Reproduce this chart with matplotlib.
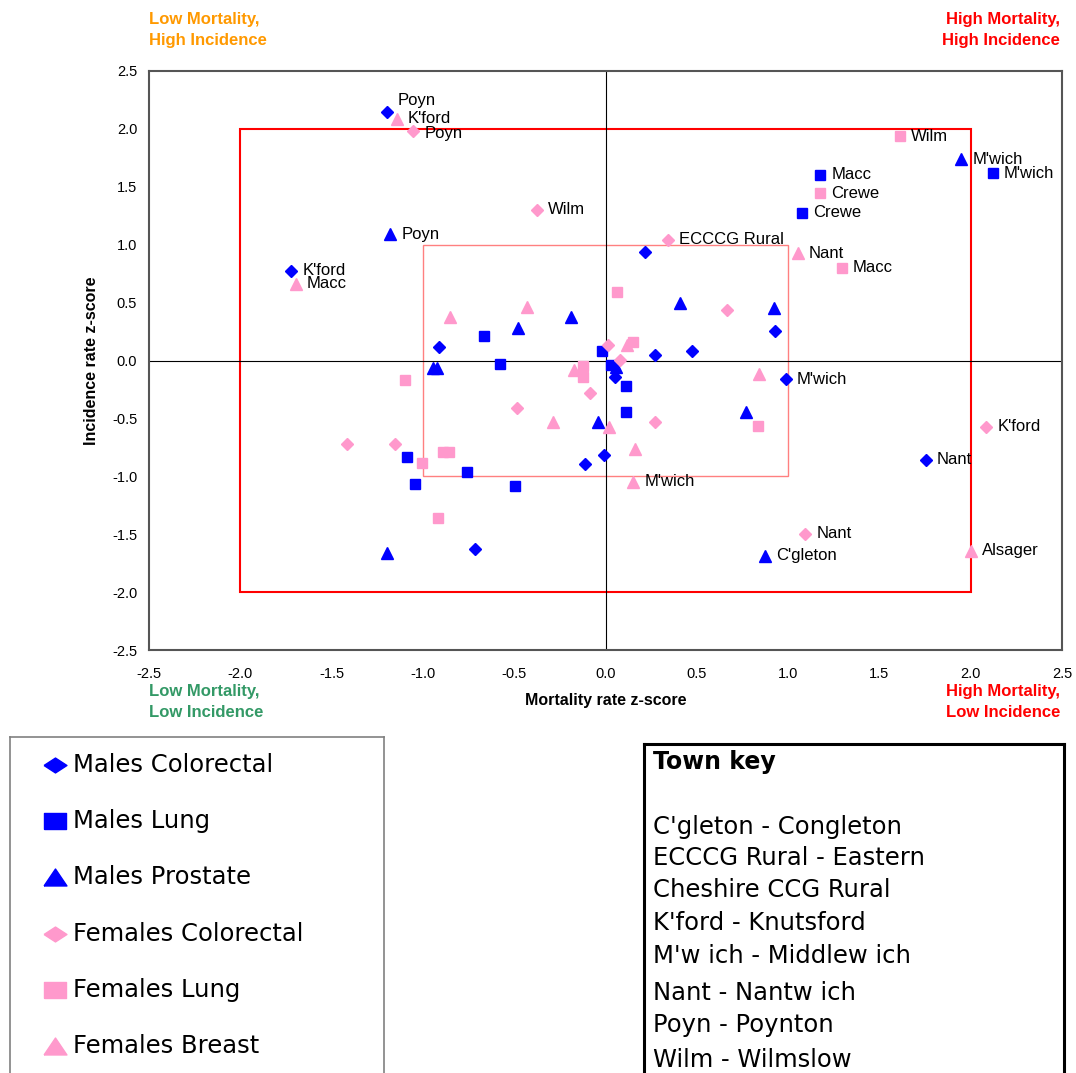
import matplotlib.pyplot as plt
from matplotlib.patches import Rectangle

plt.rcParams['font.family'] = ['Liberation Sans', 'DejaVu Sans']

# mortality (x) and incidence (y) z-scores, '' = unlabelled point
mc_x = [-1.197, -1.722, 0.988, 1.755, 0.216, -0.912, 0.271, 0.474, 0.928, 0.052, -0.112, -0.008, -0.715]
mc_y = [2.146, 0.777, -0.160, -0.859, 0.937, 0.117, 0.048, 0.082, 0.254, -0.142, -0.894, -0.816, -1.628]
mc_lab = ["Poyn", "K'ford", "M'wich", "Nant", '', '', '', '', '', '', '', '', '']

ml_x = [1.175, 1.075, 2.122, -0.665, -0.578, -0.019, 0.030, 0.112, 0.112, -0.758, -0.496, -1.087, -1.046]
ml_y = [1.602, 1.274, 1.619, 0.212, -0.030, 0.082, -0.039, -0.220, -0.445, -0.963, -1.084, -0.833, -1.066]
ml_lab = ["Macc", "Crewe", "M'wich", '', '', '', '', '', '', '', '', '', '']

mp_x = [1.947, -1.180, 0.873, 0.408, 0.923, -0.189, -0.479, -0.945, -0.923, 0.058, -0.041, 0.769, -1.197]
mp_y = [1.740, 1.092, -1.688, 0.497, 0.453, 0.376, 0.281, -0.065, -0.065, -0.056, -0.531, -0.445, -1.662]
mp_lab = ["M'wich", "Poyn", "C'gleton", '', '', '', '', '', '', '', '', '', '']

fc_x = [-1.054, -0.375, 0.342, 2.084, 1.093, 0.665, 0.014, 0.079, -0.085, -0.485, 0.271, -1.153, -1.416]
fc_y = [1.982, 1.300, 1.041, -0.574, -1.498, 0.436, 0.134, 0.004, -0.281, -0.410, -0.531, -0.721, -0.721]
fc_lab = ["Poyn", "Wilm", "ECCCG Rural", "K'ford", "Nant", '', '', '', '', '', '', '', '']

fl_x = [1.613, 1.175, 1.295, 0.063, 0.151, -0.123, -0.123, 0.835, -1.098, -1.005, -0.889, -0.857, -0.917]
fl_y = [1.938, 1.446, 0.799, 0.592, 0.160, -0.047, -0.142, -0.566, -0.168, -0.885, -0.790, -0.790, -1.360]
fl_lab = ["Wilm", "Crewe", "Macc", '', '', '', '', '', '', '', '', '', '']

fb_x = [-1.142, -1.695, 1.054, 0.151, 2.002, -0.852, -0.430, 0.118, -0.173, 0.841, -0.288, 0.019, 0.161]
fb_y = [2.085, 0.661, 0.928, -1.049, -1.645, 0.376, 0.462, 0.134, -0.082, -0.117, -0.531, -0.574, -0.764]
fb_lab = ["K'ford", "Macc", "Nant", "M'wich", "Alsager", '', '', '', '', '', '', '', '']

series_names = ['Males Colorectal', 'Males Lung', 'Males Prostate',
                'Females Colorectal', 'Females Lung', 'Females Breast']
town_key = ["C'gleton - Congleton", "ECCCG Rural - Eastern", "Cheshire CCG Rural",
            "K'ford - Knutsford", "M'w ich - Middlew ich", "Nant - Nantw ich",
            "Poyn - Poynton", "Wilm - Wilmslow"]

blue = '#0000FF'
pink = '#FF99CC'
series = [
    (mc_x, mc_y, mc_lab, 'D', 6.0, blue),
    (ml_x, ml_y, ml_lab, 's', 7.0, blue),
    (mp_x, mp_y, mp_lab, '^', 8.0, blue),
    (fc_x, fc_y, fc_lab, 'D', 6.0, pink),
    (fl_x, fl_y, fl_lab, 's', 7.0, pink),
    (fb_x, fb_y, fb_lab, '^', 8.0, pink),
]
# vertical nudges (points) for crowded labels: (series index, label)
nudge = {(0, 'Poyn'): 8, (5, "K'ford"): 0.5, (3, 'Poyn'): -1.5}
# flattened shapes used in the key box
key_marks = {
    'D': [(-1, 0), (0, 0.65), (1, 0), (0, -0.65), (-1, 0)],
    's': [(-1, -0.68), (1, -0.68), (1, 0.68), (-1, 0.68), (-1, -0.68)],
    '^': [(-1, -0.74), (1, -0.74), (0, 0.74), (-1, -0.74)],
}

fig = plt.figure(figsize=(10.76, 10.73), dpi=100)
W, H = 1076, 1073
ax = fig.add_axes([149 / W, 1 - 650 / H, (1062 - 149) / W, (650 - 71) / H])
ax.set_xlim(-2.5, 2.5)
ax.set_ylim(-2.5, 2.5)

# quadrant boxes and zero lines
ax.add_patch(Rectangle((-2, -2), 4, 4, fill=False, ec='#FF0000', lw=1.5, zorder=1))
ax.add_patch(Rectangle((-1, -1), 2, 2, fill=False, ec='#FF8080', lw=1.0, zorder=1))
ax.axhline(0, color='black', lw=0.8, zorder=1)
ax.axvline(0, color='black', lw=0.8, zorder=1)

for si, (xs, ys, labs, mk, ms, col) in enumerate(series):
    ax.plot(xs, ys, ls='none', marker=mk, ms=ms, color=col, mec=col, zorder=3)
    for x, y, lab in zip(xs, ys, labs):
        if not lab:
            continue
        dy = nudge.get((si, lab), 0)
        ax.annotate(lab, (x, y), xytext=(8, dy), textcoords='offset points',
                    va='center', ha='left', fontsize=12, zorder=4)

ticks = [-2.5, -2.0, -1.5, -1.0, -0.5, 0.0, 0.5, 1.0, 1.5, 2.0, 2.5]
ax.set_xticks(ticks)
ax.set_yticks(ticks)
ax.set_xticklabels([f'{t:.1f}' for t in ticks])
ax.set_yticklabels([f'{t:.1f}' for t in ticks])
ax.tick_params(length=0, labelsize=10.5)
ax.tick_params(axis='x', pad=12)
ax.tick_params(axis='y', pad=8.5)
for s in ax.spines.values():
    s.set_color('#555555')
    s.set_linewidth(1.5)
ax.set_xlabel('Mortality rate z-score', fontsize=11.5, fontweight='bold', labelpad=9)
ax.set_ylabel('Incidence rate z-score', fontsize=11.5, fontweight='bold', labelpad=9)

# corner notes
qk = dict(fontsize=12, fontweight='bold', va='center', linespacing=1.5)
fig.text(149 / W, 1 - 30 / H, 'Low Mortality,\nHigh Incidence', color='#FF9900', ha='left', **qk)
fig.text(1060 / W, 1 - 30 / H, 'High Mortality,\nHigh Incidence', color='#FF0000', ha='right', **qk)
fig.text(149 / W, 1 - 702 / H, 'Low Mortality,\nLow Incidence', color='#339966', ha='left', **qk)
fig.text(1060 / W, 1 - 702 / H, 'High Mortality,\nLow Incidence', color='#FF0000', ha='right', **qk)

# series key box
lg = fig.add_axes([10 / W, 0, (384 - 10) / W, (1073 - 737) / H])
lg.set_xlim(10, 384)
lg.set_ylim(1073, 737)
lg.set_xticks([])
lg.set_yticks([])
lg.spines['bottom'].set_visible(False)
for k in ['left', 'top', 'right']:
    lg.spines[k].set_color('#808080')
    lg.spines[k].set_linewidth(1.2)
for i, (name, (_, _, _, mk, ms, col)) in enumerate(zip(series_names, series)):
    yy = 765 + i * 56.2
    lg.plot([55], [yy], ls='none', marker=key_marks[mk], ms=16.5, color=col, mec=col)
    lg.text(73, yy, name, fontsize=17.5, va='center', ha='left', family='DejaVu Sans')

# town key box
tk = fig.add_axes([644 / W, 0, (1064 - 644) / W, (1073 - 744) / H])
tk.set_xlim(644, 1064)
tk.set_ylim(1073, 744)
tk.set_xticks([])
tk.set_yticks([])
tk.spines['bottom'].set_visible(False)
for k in ['left', 'top', 'right']:
    tk.spines[k].set_color('black')
    tk.spines[k].set_linewidth(2.2)
tk.text(653, 762, 'Town key', fontsize=17, fontweight='bold', va='center', ha='left',
        family='DejaVu Sans')
town_y = [827, 858, 890, 923, 956, 993, 1025, 1060]
for t, yy in zip(town_key, town_y):
    tk.text(653, yy, t, fontsize=17.5, va='center', ha='left', family='DejaVu Sans')

fig.savefig('out.png', dpi=100)
